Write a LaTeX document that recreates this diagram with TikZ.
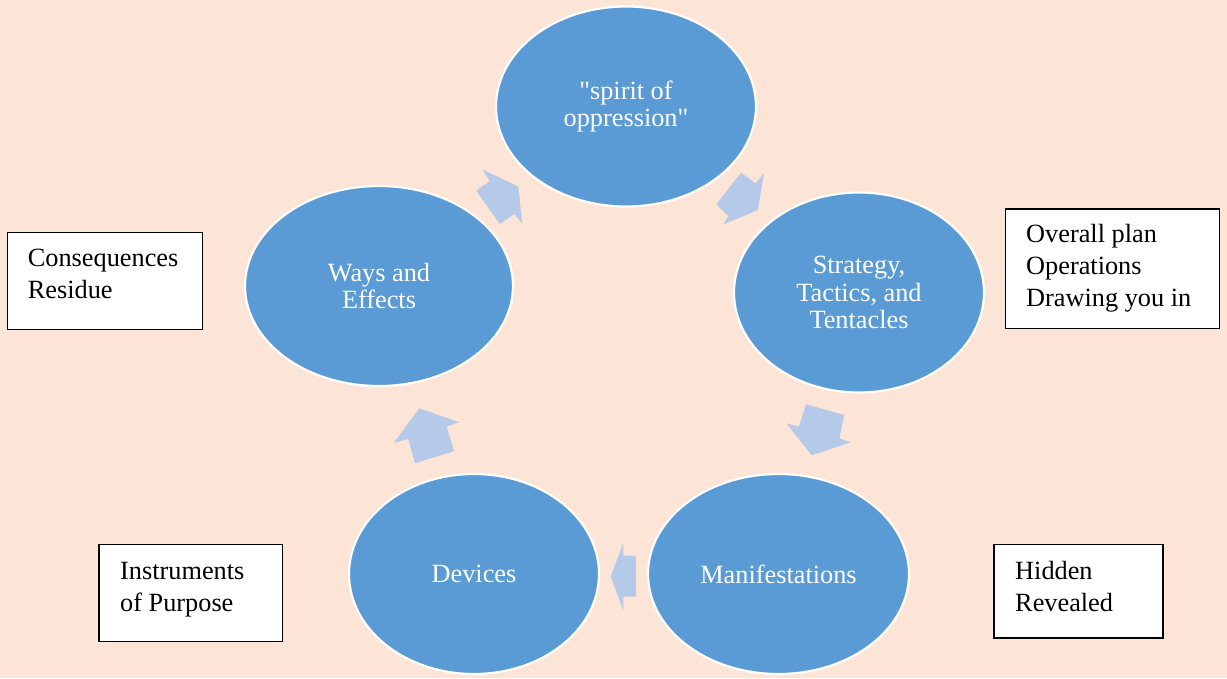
\documentclass[tikz,border=0pt]{standalone}
\usepackage{fontspec}
\setmainfont{Liberation Serif}[Ligatures=TeXOff]
\usetikzlibrary{shapes.geometric}
\definecolor{bgpeach}{HTML}{FCE4D6}
\definecolor{cycblue}{HTML}{5B9BD5}
\definecolor{arrblue}{HTML}{B5CAE9}
\begin{document}
\begin{tikzpicture}[x=1pt,y=-1pt,
  cyc/.style={ellipse, fill=cycblue, draw=white, line width=2.2pt,
    minimum width=260pt, minimum height=200pt, inner sep=0pt,
    text=white, align=center, font=\fontsize{26.3}{27.5}\selectfont},
  notebox/.style={rectangle, draw=black, line width=1.4pt, fill=white,
    inner sep=0pt, anchor=north west},
  notetext/.style={anchor=north west, inner sep=0pt, align=left,
    font=\fontsize{26.3}{32}\selectfont},
  cycarrow/.style={fill=arrblue, draw=none}]
  \useasboundingbox (0,0) rectangle (1227,678);
  \fill[bgpeach] (0,0) rectangle (1227,678);

  % cycle nodes
  \node[cyc] (spirit) at (626,106.5) {"spirit of\\oppression"};
  \node[cyc, minimum width=250pt] (strat) at (859,292.5) {Strategy,\\Tactics, and\\Tentacles};
  \node[cyc, minimum width=261pt] (manif) at (778.5,574) {Manifestations};
  \node[cyc, minimum width=250pt] (dev)   at (474,574)   {Devices};
  \node[cyc, minimum width=268pt] (ways)  at (379,286)   {Ways and\\Effects};

  % block arrows of the cycle
  \fill[cycarrow] (482.3,169.3) -- (518.3,186.7) -- (522.3,224) -- (514.3,214)
    -- (499.7,224) -- (476.3,190.7) -- (489.7,181) -- cycle;
  \fill[cycarrow] (741,172.7) -- (755.7,183.3) -- (764,173.3) -- (757.7,210)
    -- (723.7,224.3) -- (728.3,216) -- (716.3,204.3) -- cycle;
  \fill[cycarrow] (806,404.3) -- (844.3,415) -- (839.3,438.3) -- (850.7,442.3)
    -- (811.7,455.3) -- (786.3,423.3) -- (799,426.7) -- cycle;
  \fill[cycarrow] (610.7,576.7) -- (623.3,542.7) -- (623.3,555.7) -- (636,555.7)
    -- (636,596.7) -- (623.3,596.7) -- (623.3,610) -- cycle;
  \fill[cycarrow] (419.3,408.3) -- (459,422.3) -- (446.7,426.7) -- (454,451)
    -- (415,463.3) -- (408.3,439) -- (394,442.7) -- cycle;

  % note boxes
  \node[notebox, minimum width=195pt, minimum height=96.5pt] (boxcons) at (6.7,232) {};
  \node[notetext] (txtcons) at ([xshift=21pt,yshift=-12.3pt]boxcons.north west)
    {\strut Consequences\\Residue};

  \node[notebox, minimum width=214pt, minimum height=119.5pt] (boxplan) at (1005,208.3) {};
  \node[notetext] (txtplan) at ([xshift=21pt,yshift=-12pt]boxplan.north west)
    {\strut Overall plan\\Operations\\Drawing you in};

  \node[notebox, minimum width=183.4pt, minimum height=96.7pt] (boxinst) at (98.3,544) {};
  \node[notetext] (txtinst) at ([xshift=21.7pt,yshift=-12.6pt]boxinst.north west)
    {\strut Instruments\\of Purpose};

  \node[notebox, minimum width=169pt, minimum height=93.3pt] (boxhid) at (993.3,544) {};
  \node[notetext] (txthid) at ([xshift=21.7pt,yshift=-12.9pt]boxhid.north west)
    {\strut Hidden\\Revealed};
\end{tikzpicture}
\end{document}
